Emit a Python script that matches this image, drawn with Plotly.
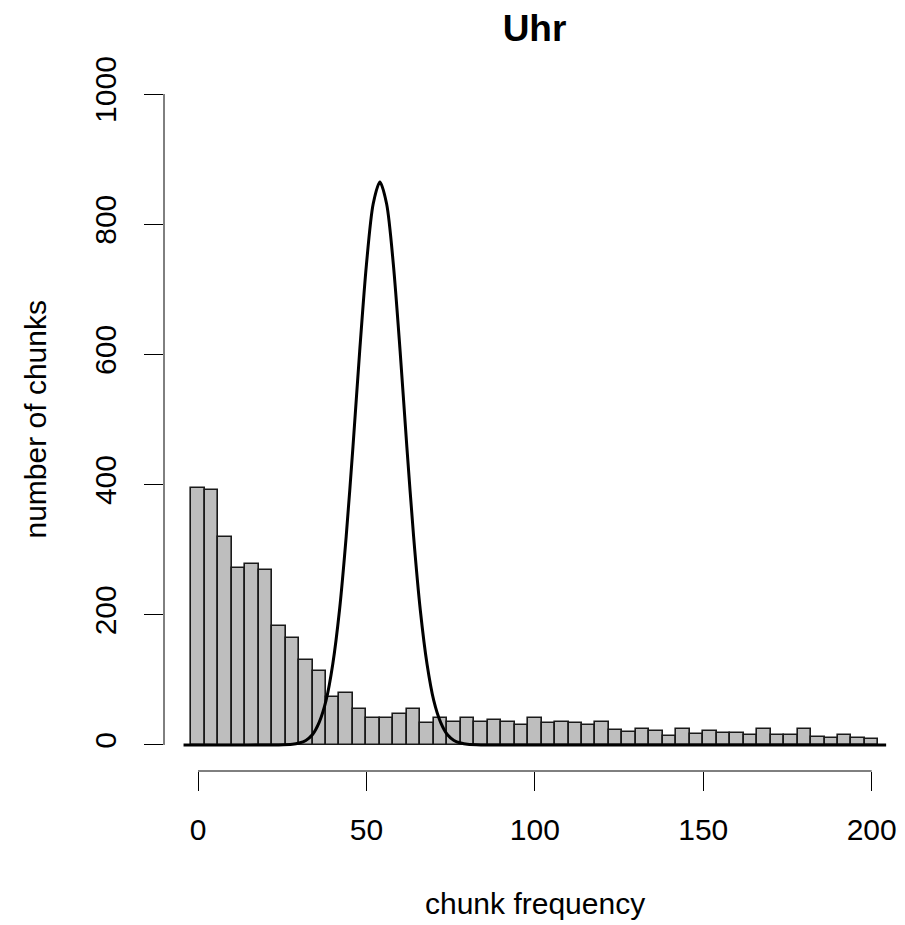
import plotly.graph_objects as go

# ---- data ----
bin_width = 4
bin_centers = [0, 4, 8, 12, 16, 20, 24, 28, 32, 36, 40, 44, 48, 52, 56, 60, 64, 68,
               72, 76, 80, 84, 88, 92, 96, 100, 104, 108, 112, 116, 120, 124, 128,
               132, 136, 140, 144, 148, 152, 156, 160, 164, 168, 172, 176, 180, 184,
               188, 192, 196, 200]
counts = [395, 391, 319, 272, 278, 269, 183, 164, 131, 114, 73, 80, 55, 41, 41, 47,
          55, 33, 42, 36, 41, 35, 39, 36, 31, 41, 33, 36, 33, 30, 35, 23, 20, 24, 22,
          14, 24, 17, 21, 19, 18, 15, 24, 16, 16, 25, 12, 11, 15, 10, 9]

curve_x = [-4.3, 24, 28, 30, 32, 34, 36, 38, 40, 42, 44, 46, 48, 50, 52, 54, 56, 58,
           60, 62, 64, 66, 68, 70, 72, 74, 76, 78, 80, 84, 204.3]
curve_y = [0, 0, 1, 3, 7, 16, 35, 68, 124, 207, 321, 458, 605, 738, 831, 865, 831,
           738, 605, 458, 321, 207, 124, 68, 35, 16, 7, 3, 1, 0, 0]

x_ticks = [0, 50, 100, 150, 200]
y_ticks = [0, 200, 400, 600, 800, 1000]

title_text = "Uhr"
x_title = "chunk frequency"
y_title = "number of chunks"

FONT = "Liberation Sans, Arial, Helvetica, sans-serif"

fig = go.Figure()
fig.add_trace(go.Bar(
    x=bin_centers, y=counts, width=bin_width,
    marker=dict(color="#BEBEBE", line=dict(color="#1a1a1a", width=1.6)),
    showlegend=False, hoverinfo="x+y",
))
fig.add_trace(go.Scatter(
    x=curve_x, y=curve_y, mode="lines",
    line=dict(color="black", width=3, shape="spline", smoothing=0.8),
    showlegend=False,
))

# R-style axis lines spanning first to last tick only
fig.add_shape(type="line", xref="x", yref="paper",
              x0=x_ticks[0], x1=x_ticks[-1], y0=0, y1=0,
              line=dict(color="black", width=1))
fig.add_shape(type="line", xref="paper", yref="y",
              x0=0, x1=0, y0=y_ticks[0], y1=y_ticks[-1],
              line=dict(color="black", width=1))

fig.update_layout(
    width=905, height=925,
    margin=dict(l=164, r=0, t=68, b=154),
    paper_bgcolor="white", plot_bgcolor="white",
    bargap=0,
    font=dict(family=FONT, color="black", size=30),
    title=dict(text="<b>" + title_text + "</b>", x=0.5, xref="paper",
               y=1 - 28 / 925, yref="container", yanchor="middle", xanchor="center",
               font=dict(size=37, family=FONT, color="black")),
    xaxis=dict(range=[-10.1, 209.9], showgrid=False, zeroline=False, showline=False,
               tickmode="array", tickvals=x_ticks, ticks="outside", ticklen=19,
               tickwidth=1, tickcolor="black", tickfont=dict(size=30),
               ticklabelstandoff=13),
    yaxis=dict(range=[-40, 1040], showgrid=False, zeroline=False, showline=False,
               tickmode="array", tickvals=y_ticks, ticks="outside", ticklen=19,
               tickwidth=1, tickcolor="black", tickfont=dict(size=30),
               tickangle=-90, ticklabelstandoff=16),
    annotations=[
        dict(text=x_title, xref="paper", yref="paper", x=0.5, y=-132 / 703,
             xanchor="center", yanchor="middle", showarrow=False,
             font=dict(size=30, family=FONT)),
        dict(text=y_title, xref="paper", yref="paper", x=-129 / 741, y=0.5,
             xanchor="center", yanchor="middle", showarrow=False, textangle=-90,
             font=dict(size=30, family=FONT)),
    ],
)

fig.write_html("out.html")
